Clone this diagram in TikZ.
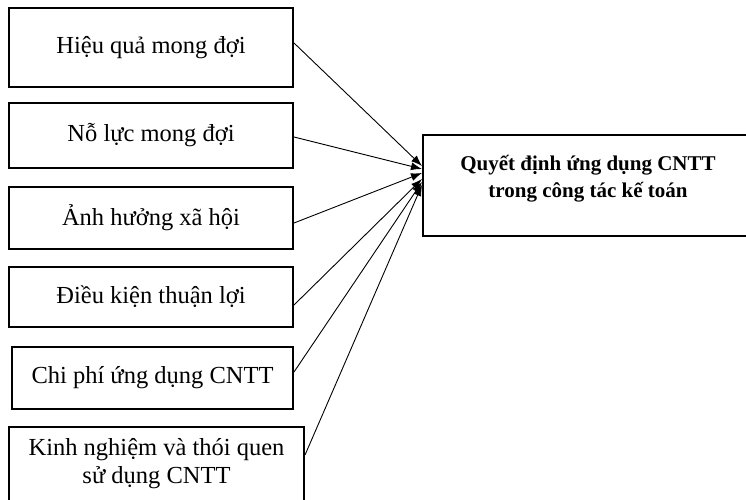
\documentclass[tikz,border=0pt]{standalone}
\usepackage{fontspec}
\setmainfont{Liberation Serif}
\usetikzlibrary{arrows.meta}
\begin{document}
\begin{tikzpicture}[x=1pt,y=-1pt,
  factor/.style={draw,line width=2pt,inner sep=0pt,minimum width=284pt,
    font=\fontsize{24.5}{28}\selectfont,align=center},
  target/.style={draw,line width=2pt,inner sep=0pt,minimum width=326pt,minimum height=101pt},
  link/.style={line width=0.9pt,-{Latex[length=11pt,width=8pt]}}]
\useasboundingbox (0,0) rectangle (746,500);
% factor boxes
\node[factor,minimum height=79pt] (b1) at (151,47.5) {Hiệu quả mong đợi};
\node[factor,minimum height=65pt] (b2) at (151,135.5) {Nỗ lực mong đợi};
\node[factor,minimum height=62pt] (b3) at (151,218) {Ảnh hưởng xã hội};
\node[factor,minimum height=60pt] (b4) at (151,297) {Điều kiện thuận lợi};
\node[factor,minimum height=62pt,minimum width=281pt] (b5) at (152.5,378) {Chi phí ứng dụng CNTT};
\node[factor,minimum height=75pt,minimum width=295pt] (b6) at (156.5,464) {Kinh nghiệm và thói quen\\sử dụng CNTT};
% outcome box
\node[target] (out) at (586,185.5) {};
\node[font=\bfseries\fontsize{21}{27}\selectfont,align=center] (outtxt) at (588,178.5)
  {Quyết định ứng dụng CNTT\\trong công tác kế toán};
% connectors
\draw[link] ([yshift=4.5pt]b1.east) -- ([yshift=19.5pt]out.west);
\draw[link] ([yshift=-1.5pt]b2.east) -- ([yshift=16.5pt]out.west);
\draw[link] ([yshift=-5pt]b3.east) -- ([yshift=12.5pt]out.west);
\draw[link] ([yshift=-8pt]b4.east) -- ([yshift=6.5pt]out.west);
\draw[link] ([yshift=6pt]b5.east) -- ([yshift=3.5pt]out.west);
\draw[link] ([yshift=9pt]b6.east) -- ([yshift=0.5pt]out.west);
\end{tikzpicture}
\end{document}
